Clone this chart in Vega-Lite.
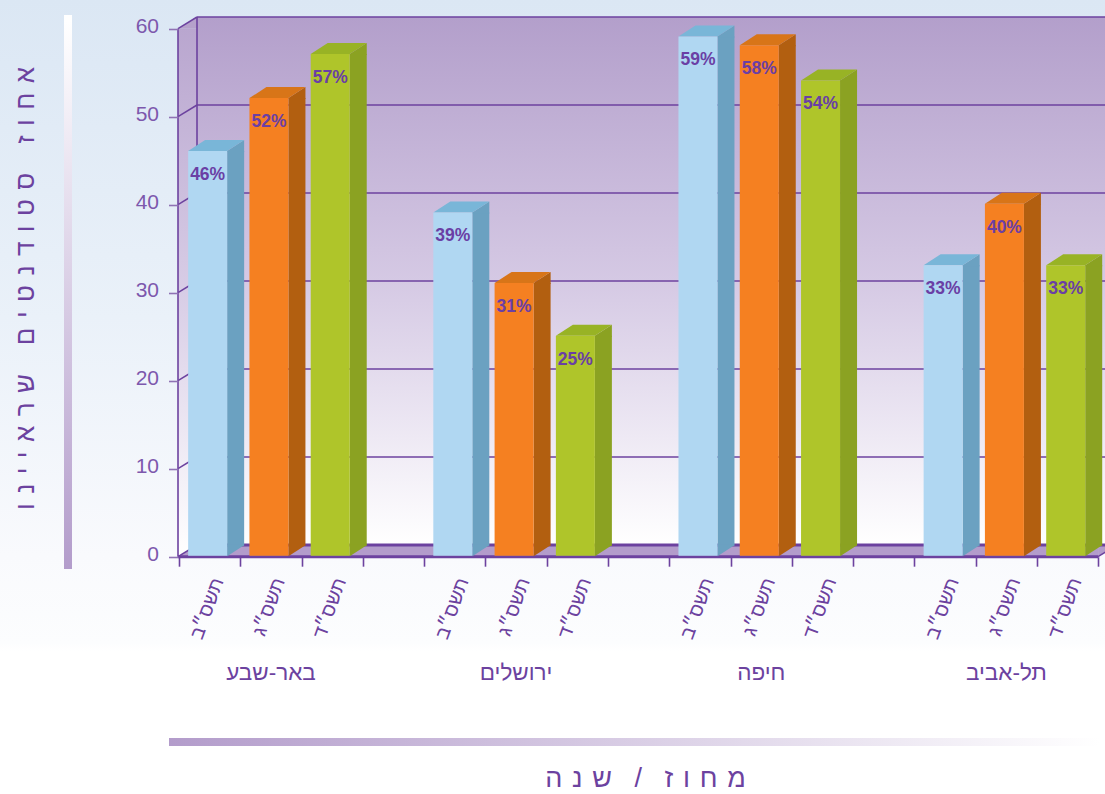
{
"$schema":"https://vega.github.io/schema/vega-lite/v6.json",
"width":1105,"height":794,"padding":0,"autosize":{"type":"none"},
"background":"#ffffff",
"config":{"view":{"stroke":null},"font":"Liberation Sans"},
"datasets":{
"bars":[
{"slot":0.5,"region":"באר-שבע","year":"תשס״ב","value":46,"label":"46%"},
{"slot":1.5,"region":"באר-שבע","year":"תשס״ג","value":52,"label":"52%"},
{"slot":2.5,"region":"באר-שבע","year":"תשס״ד","value":57,"label":"57%"},
{"slot":4.5,"region":"ירושלים","year":"תשס״ב","value":39,"label":"39%"},
{"slot":5.5,"region":"ירושלים","year":"תשס״ג","value":31,"label":"31%"},
{"slot":6.5,"region":"ירושלים","year":"תשס״ד","value":25,"label":"25%"},
{"slot":8.5,"region":"חיפה","year":"תשס״ב","value":59,"label":"59%"},
{"slot":9.5,"region":"חיפה","year":"תשס״ג","value":58,"label":"58%"},
{"slot":10.5,"region":"חיפה","year":"תשס״ד","value":54,"label":"54%"},
{"slot":12.5,"region":"תל-אביב","year":"תשס״ב","value":33,"label":"33%"},
{"slot":13.5,"region":"תל-אביב","year":"תשס״ג","value":40,"label":"40%"},
{"slot":14.5,"region":"תל-אביב","year":"תשס״ד","value":33,"label":"33%"}],
"regions":[
{"slot":1.5,"region":"באר-שבע","level":-13.2},
{"slot":5.5,"region":"ירושלים","level":-13.2},
{"slot":9.5,"region":"חיפה","level":-13.2},
{"slot":13.5,"region":"תל-אביב","level":-13.2}],
"ticks":[{"v":0},{"v":10},{"v":20},{"v":30},{"v":40},{"v":50},{"v":60}],
"one":[{"a":1}]
},
"layer":[
 {"data":{"name":"one"},"mark":{"type":"rect","color":{"gradient":"linear","x1":0,"y1":0,"x2":0,"y2":1,"stops":[{"offset":0,"color":"#dbe7f4"},{"offset":0.4,"color":"#eaf1f9"},{"offset":0.7,"color":"#f9fafd"},{"offset":0.81,"color":"#fcfdfe"},{"offset":0.82,"color":"#ffffff"},{"offset":1,"color":"#ffffff"}]}},
  "encoding":{"x":{"datum":-2.9206,"type":"quantitative","scale":{"domain":[-2.9206,15.1085],"nice":false,"zero":false,"padding":0},
   "axis":{"orient":"bottom","offset":-237.3,"domain":false,"grid":false,"zindex":1,"values":[0,1,2,3,4,5,6,7,8,9,10,11,12,13,14,15],"tickColor":"#6c429f","tickWidth":1.6,"tickSize":9.5,"labelAngle":-70,"labelAlign":"right","labelBaseline":"middle","labelPadding":12,"labelOffset":38.6,"labelFontSize":19.5,"labelColor":"#6c429f","labelOverlap":false,"labelBound":false,"labelFlush":false,
   "labelExpr":"['תשס״ב','תשס״ג','תשס״ד',''][datum.value%4]",
   "title":"מ\u00a0\u200aח\u00a0\u200aו\u00a0\u200aז\u00a0\u00a0\u00a0/\u00a0\u00a0\u00a0ש\u00a0\u200aנ\u00a0\u200aה","titleX":645,"titleY":222,"titleAlign":"center","titleBaseline":"middle","titleColor":"#6c429f","titleFontSize":27,"titleFontWeight":"normal"}},"x2":{"datum":15.1085},
   "y":{"datum":63.261,"type":"quantitative","scale":{"domain":[-26.966,63.261],"nice":false,"zero":false,"padding":0},
   "axis":{"orient":"left","offset":-178,"values":[0,10,20,30,40,50,60],"grid":false,"domain":false,"zindex":1,"tickColor":"#8f72b4","tickSize":9.5,"tickWidth":1.6,"labelColor":"#7d58ad","labelFontSize":21,"labelPadding":10,"labelBaseline":"middle","labelOffset":-2,
    "title":"א\u00a0\u200aח\u00a0\u200aו\u00a0\u200aז\u00a0\u00a0\u00a0\u00a0ס\u00a0\u200aט\u00a0\u200aו\u00a0\u200aד\u00a0\u200aנ\u00a0\u200aט\u00a0\u200aי\u00a0\u200aם\u00a0\u00a0\u00a0\u00a0ש\u00a0\u200aר\u00a0\u200aא\u00a0\u200aי\u00a0\u200aי\u00a0\u200aנ\u00a0\u200aו","titleX":-153,"titleY":288,"titleAngle":270,"titleAlign":"center","titleBaseline":"middle","titleColor":"#6c429f","titleFontSize":26,"titleFontWeight":"normal"}},"y2":{"datum":-26.966}}},
 {"data":{"name":"one"},"mark":{"type":"rect","color":{"gradient":"linear","x1":0,"y1":0,"x2":0,"y2":1,"stops":[{"offset":0,"color":"#ffffff"},{"offset":0.012,"color":"#ffffff"},{"offset":1,"color":"#b39ccb"}]}},
  "encoding":{"x":{"datum":-1.8763,"type":"quantitative"},"x2":{"datum":-1.7458},"y":{"datum":61.56,"type":"quantitative"},"y2":{"datum":-1.4}}},
 {"data":{"name":"one"},"mark":{"type":"rect","color":{"gradient":"linear","x1":0,"y1":0,"x2":1,"y2":0,"stops":[{"offset":0,"color":"#b39ccb"},{"offset":1,"color":"#ffffff"}]}},
  "encoding":{"x":{"datum":-0.1632,"type":"quantitative"},"x2":{"datum":15.027},"y":{"datum":-20.6,"type":"quantitative"},"y2":{"datum":-21.51}}},
 {"data":{"name":"one"},"mark":{"type":"rect","color":{"gradient":"linear","x1":0,"y1":0,"x2":0,"y2":1,"stops":[{"offset":0,"color":"#b39fcb"},{"offset":0.5,"color":"#d5c9e4"},{"offset":1,"color":"#ffffff"}]}},
  "encoding":{"x":{"datum":0.2937,"type":"quantitative"},"x2":{"datum":15.1085},"y":{"datum":61.33,"type":"quantitative"},"y2":{"datum":1.33}}},
 {"data":{"name":"one"},"mark":{"type":"rect","color":{"gradient":"linear","x1":0,"y1":0,"x2":0,"y2":1,"stops":[{"offset":0,"color":"#b9a6cf"},{"offset":0.5,"color":"#d8cde6"},{"offset":1,"color":"#ffffff"}]}},
  "encoding":{"x":{"datum":-0.0163,"type":"quantitative"},"x2":{"datum":0.2937},"y":{"datum":60,"type":"quantitative"},"y2":{"datum":0}}},
 {"data":{"name":"one"},"mark":{"type":"point","filled":true,"opacity":1,"size":4,"strokeWidth":0,"color":"#b5a1cb","shape":"M0 0L19 -11.7L19 0Z"},
  "encoding":{"x":{"datum":-0.0163,"type":"quantitative"},"y":{"datum":60,"type":"quantitative"}}},
 {"data":{"name":"one"},"mark":{"type":"rect","color":"#b39ccb"},
  "encoding":{"x":{"datum":0.2937,"type":"quantitative"},"x2":{"datum":14.9951},"y":{"datum":1.33,"type":"quantitative"},"y2":{"datum":0}}},
 {"data":{"name":"one"},"mark":{"type":"point","filled":true,"opacity":1,"size":4,"strokeWidth":0,"color":"#b39ccb","shape":"M0 0L19 -11.7L19 0Z"},
  "encoding":{"x":{"datum":-0.0163,"type":"quantitative"},"y":{"datum":0,"type":"quantitative"}}},
 {"data":{"name":"one"},"mark":{"type":"point","filled":true,"opacity":1,"size":4,"strokeWidth":0,"color":"#b39ccb","shape":"M0 0L19 -11.7L0 -11.7Z"},
  "encoding":{"x":{"datum":14.9951,"type":"quantitative"},"y":{"datum":0,"type":"quantitative"}}},
 {"data":{"name":"one"},"mark":{"type":"rule","color":"#6c429f","strokeWidth":1.6},
  "encoding":{"x":{"datum":-0.0163,"type":"quantitative"},"y":{"datum":60,"type":"quantitative"},"y2":{"datum":0}}},
 {"data":{"name":"one"},"mark":{"type":"rule","color":"#6c429f","strokeWidth":1.6},
  "encoding":{"x":{"datum":0.2937,"type":"quantitative"},"y":{"datum":61.33,"type":"quantitative"},"y2":{"datum":1.33}}},
 {"data":{"name":"one"},"mark":{"type":"rule","color":"#6c429f","strokeWidth":3},
  "encoding":{"x":{"datum":-0.0163,"type":"quantitative"},"x2":{"datum":14.9951},"y":{"datum":0,"type":"quantitative"}}},
 {"data":{"name":"one"},"mark":{"type":"rule","color":"#6c429f","strokeWidth":3},
  "encoding":{"x":{"datum":0.2937,"type":"quantitative"},"x2":{"datum":15.1085},"y":{"datum":1.33,"type":"quantitative"}}},
 {"data":{"name":"one"},"mark":{"type":"point","filled":false,"opacity":1,"size":4,"strokeWidth":1.4,"color":"#6c429f","shape":"M0 0L19 -11.7"},
  "encoding":{"x":{"datum":14.9951,"type":"quantitative"},"y":{"datum":0,"type":"quantitative"}}},
 {"data":{"name":"ticks"},"mark":{"type":"rule","color":"#6c429f","strokeWidth":1.5,"yOffset":-11.7},
  "encoding":{"x":{"datum":0.2937,"type":"quantitative"},"x2":{"datum":15.1085},"y":{"field":"v","type":"quantitative"}}},
 {"data":{"name":"ticks"},"mark":{"type":"point","filled":false,"opacity":1,"size":4,"strokeWidth":1.5,"color":"#6c429f","shape":"M0 0L19 -11.7"},
  "encoding":{"x":{"datum":-0.0163,"type":"quantitative"},"y":{"field":"v","type":"quantitative"}}},
 {"data":{"name":"bars"},"mark":{"type":"bar","opacity":1,"width":17,"xOffset":26,"yOffset":-1,"y2Offset":-11},
  "encoding":{"x":{"field":"slot","type":"quantitative"},
   "y":{"field":"value","type":"quantitative"},"y2":{"datum":0},
   "color":{"condition":[{"test":"datum.year==='תשס״ב'","value":"#6ba1c1"},{"test":"datum.year==='תשס״ג'","value":"#b25f10"}],"value":"#8ba222"}}},
 {"data":{"name":"bars"},"mark":{"type":"point","filled":true,"opacity":1,"size":4,"strokeWidth":0,"xOffset":-2,"yOffset":-1,"shape":"M19.5 0L36.5 -11L36.5 1L19.5 1Z"},
  "encoding":{"x":{"field":"slot","type":"quantitative"},"y":{"field":"value","type":"quantitative"},
   "color":{"condition":[{"test":"datum.year==='תשס״ב'","value":"#6ba1c1"},{"test":"datum.year==='תשס״ג'","value":"#b25f10"}],"value":"#8ba222"}}},
 {"data":{"name":"bars"},"mark":{"type":"point","filled":true,"opacity":1,"size":4,"strokeWidth":0,"xOffset":-2,"shape":"M19.5 -0.5L19.5 -12L36.5 -12L36.5 -11.5Z"},
  "encoding":{"x":{"field":"slot","type":"quantitative"},"y":{"datum":0,"type":"quantitative"},
   "color":{"condition":[{"test":"datum.year==='תשס״ב'","value":"#6ba1c1"},{"test":"datum.year==='תשס״ג'","value":"#b25f10"}],"value":"#8ba222"}}},
 {"data":{"name":"bars"},"mark":{"type":"point","filled":true,"opacity":1,"size":4,"strokeWidth":0,"xOffset":-2,"yOffset":-1,"shape":"M-19.5 0L19.5 0L36.5 -11L-2.5 -11Z"},
  "encoding":{"x":{"field":"slot","type":"quantitative"},"y":{"field":"value","type":"quantitative"},
   "color":{"condition":[{"test":"datum.year==='תשס״ב'","value":"#79b6d8"},{"test":"datum.year==='תשס״ג'","value":"#d87518"}],"value":"#98b325"}}},
 {"data":{"name":"bars"},"mark":{"type":"bar","opacity":1,"width":39,"xOffset":-2,"yOffset":-1,"y2Offset":-1},
  "encoding":{"x":{"field":"slot","type":"quantitative"},"y":{"field":"value","type":"quantitative"},"y2":{"datum":0},
   "color":{"condition":[{"test":"datum.year==='תשס״ב'","value":"#b0d7f2"},{"test":"datum.year==='תשס״ג'","value":"#f58021"}],"value":"#afc52a"}}},
 {"data":{"name":"bars"},"mark":{"type":"text","fontSize":17.5,"fontWeight":"bold","color":"#6a3fa5","xOffset":-2,"yOffset":23},
  "encoding":{"x":{"field":"slot","type":"quantitative"},"y":{"field":"value","type":"quantitative"},"text":{"field":"label"}}},
 {"data":{"name":"regions"},"mark":{"type":"text","fontSize":22.5,"color":"#6c429f"},
  "encoding":{"x":{"field":"slot","type":"quantitative"},"y":{"field":"level","type":"quantitative"},"text":{"field":"region"}}}
]}
